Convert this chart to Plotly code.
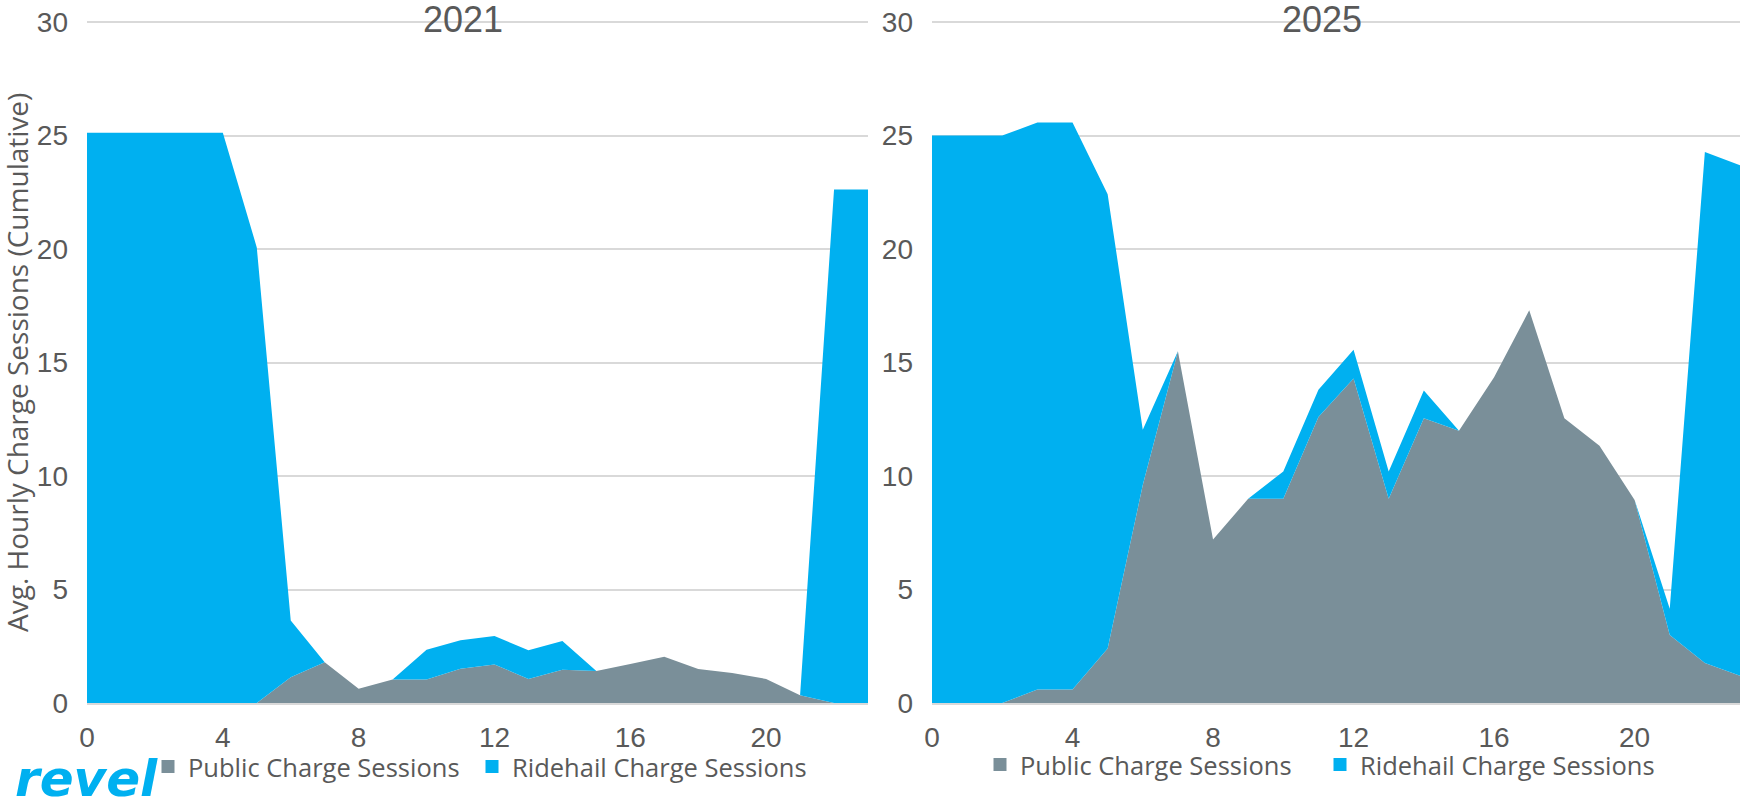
import plotly.graph_objects as go

# ---------------- data ----------------
hours = list(range(24))
public_2021 = [0, 0, 0, 0, 0, 0, 1.14, 1.80, 0.63, 1.03, 1.03, 1.51, 1.70, 1.06, 1.47, 1.41,
               1.72, 2.04, 1.50, 1.32, 1.06, 0.34, 0, 0]
ridehail_2021 = [25.13, 25.13, 25.13, 25.13, 25.13, 20.07, 2.50, 0, 0, 0, 1.32, 1.25, 1.25, 1.26,
                 1.26, 0, 0, 0, 0, 0, 0, 0, 22.63, 22.63]
public_2025 = [0, 0, 0, 0.6, 0.6, 2.4, 9.6, 15.5, 7.2, 9.0, 9.0, 12.6, 14.3, 9.0, 12.55, 12.0,
               14.35, 17.3, 12.55, 11.33, 8.95, 3.0, 1.76, 1.2]
ridehail_2025 = [25.0, 25.0, 25.0, 24.98, 24.98, 20.02, 2.44, 0, 0, 0, 1.2, 1.2, 1.26, 1.2, 1.22,
                 0, 0, 0, 0, 0, 0, 1.15, 22.52, 22.49]
panel_titles = ["2021", "2025"]
series_names = ["Public Charge Sessions", "Ridehail Charge Sessions"]
x_ticks = [0, 4, 8, 12, 16, 20]
y_ticks = [0, 5, 10, 15, 20, 25, 30]

# ---------------- style ----------------
W, H = 1740, 806
ML, MR, MT, MB = 87, 0, 21, 103
PW, PH = W - ML - MR, H - MT - MB
GRAY = "#7A8F99"
BLUE = "#00B0F0"
TXT = "#595959"
GRID = "#D9D9D9"
TICK_FONT = dict(family="Liberation Sans Narrow, Arial Narrow, Liberation Sans", size=28, color=TXT)
LEG_FONT = dict(family="Open Sans", size=25.5, color=TXT)


def px_x(p):
    return (p - ML) / PW


def px_y(p):
    return (H - MB - p) / PH


fig = go.Figure()

# legend placement (pixel x of each legend box, pixel y centre) per panel/series
legend_slots = {
    ("x", 0): ("legend", 148, 767),
    ("x", 1): ("legend2", 472, 767),
    ("x2", 0): ("legend3", 980, 765),
    ("x2", 1): ("legend4", 1320, 765),
}

panels = [
    (public_2021, ridehail_2021, "x", "y", "a"),
    (public_2025, ridehail_2025, "x2", "y2", "b"),
]
for pub, ride, xa, ya, sg in panels:
    fig.add_trace(go.Scatter(x=hours, y=pub, mode="none", stackgroup=sg, fillcolor=GRAY,
                             xaxis=xa, yaxis=ya, showlegend=False, name=series_names[0],
                             hoverinfo="x+y"))
    fig.add_trace(go.Scatter(x=hours, y=ride, mode="none", stackgroup=sg, fillcolor=BLUE,
                             xaxis=xa, yaxis=ya, showlegend=False, name=series_names[1],
                             hoverinfo="x+y"))
    # legend entries (square markers like the reference)
    for i, (nm, col) in enumerate(zip(series_names, [GRAY, BLUE])):
        leg = legend_slots[(xa, i)][0]
        fig.add_trace(go.Scatter(x=[None], y=[None], mode="markers", name=nm,
                                 marker=dict(symbol="square", size=13, color=col),
                                 xaxis=xa, yaxis=ya, legend=leg, showlegend=True))

xcommon = dict(range=[0, 23], tickmode="array", tickvals=x_ticks, showgrid=False,
               zeroline=False, showline=True, linecolor=GRID, linewidth=2, ticks="",
               tickfont=TICK_FONT, ticklabelstandoff=8, fixedrange=True)
ycommon = dict(range=[0, 30.05], tickmode="array", tickvals=y_ticks, showgrid=True,
               gridcolor=GRID, gridwidth=1.5, zeroline=False, showline=False, ticks="",
               tickfont=TICK_FONT, ticklabelstandoff=18, fixedrange=True)

left_end = px_x(868)
right_start = px_x(932)

layout_legends = {}
for (leg, lx, ly) in legend_slots.values():
    layout_legends[leg] = dict(orientation="h", x=px_x(lx), y=px_y(ly), xanchor="left",
                               yanchor="middle", font=LEG_FONT, bgcolor="rgba(0,0,0,0)",
                               itemclick=False, itemdoubleclick=False)

fig.update_layout(
    width=W, height=H,
    margin=dict(l=ML, r=MR, t=MT, b=MB, pad=0),
    paper_bgcolor="white", plot_bgcolor="white",
    xaxis=dict(domain=[0, left_end], anchor="y", **xcommon),
    yaxis=dict(domain=[0, 1], anchor="x", **ycommon),
    xaxis2=dict(domain=[right_start, 1], anchor="y2", **xcommon),
    yaxis2=dict(domain=[0, 1], anchor="x2", **ycommon),
    showlegend=True,
    **layout_legends,
)

annotations = [
    dict(text=panel_titles[0], x=px_x(463), y=px_y(19), xref="paper", yref="paper",
         showarrow=False, xanchor="center", yanchor="middle",
         font=dict(family="Liberation Sans, Arial", size=36, color=TXT)),
    dict(text=panel_titles[1], x=px_x(1322), y=px_y(19), xref="paper", yref="paper",
         showarrow=False, xanchor="center", yanchor="middle",
         font=dict(family="Liberation Sans, Arial", size=36, color=TXT)),
    dict(text="Avg. Hourly Charge Sessions (Cumulative)", x=px_x(17), y=px_y(363),
         xref="paper", yref="paper", showarrow=False, textangle=-90,
         xanchor="center", yanchor="middle",
         font=dict(family="Open Sans", size=28, color=TXT)),
    dict(text="<b><i>revel</i></b>", x=px_x(86), y=px_y(779), xref="paper", yref="paper",
         showarrow=False, xanchor="center", yanchor="middle",
         font=dict(family="DejaVu Sans", size=50, color=BLUE)),
]
fig.update_layout(annotations=annotations)

fig.write_html("out.html", config={"displayModeBar": False},
               post_script="document.body.style.margin='0px';")
